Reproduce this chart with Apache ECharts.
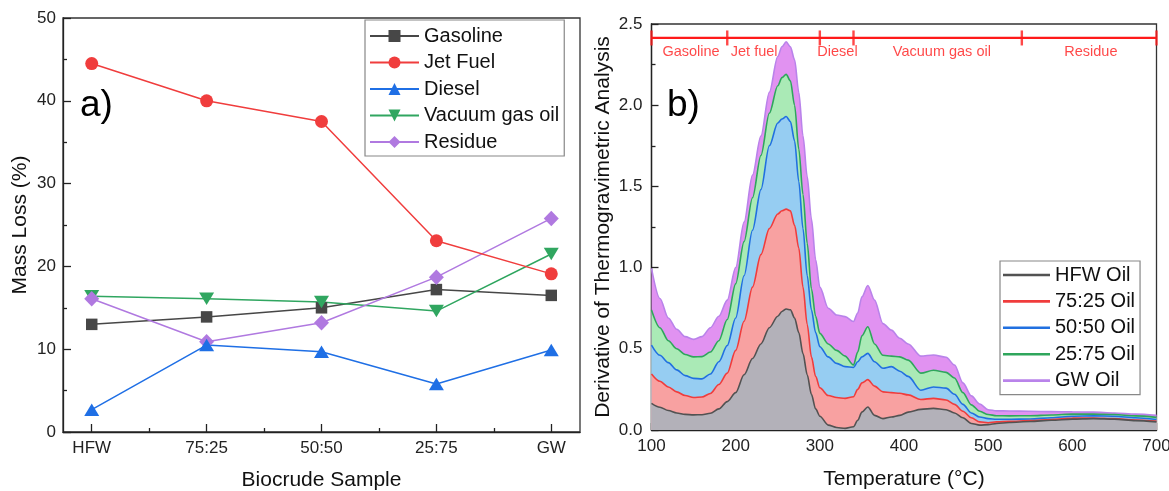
<!DOCTYPE html>
<html>
<head>
<meta charset="utf-8">
<script src="https://cdn.jsdelivr.net/npm/echarts@6/dist/echarts.min.js"></script>
<style>
html,body{margin:0;padding:0;background:#fff;}
#main{width:1169px;height:491px;}
</style>
</head>
<body>
<div id="main"></div>
<script>
// ---------- Panel a) data ----------
const categories = ['HFW', '75:25', '50:50', '25:75', 'GW'];
const gasoline     = [13.0, 13.9, 15.0, 17.2, 16.5];
const jetFuel      = [44.5, 40.0, 37.5, 23.1, 19.1];
const diesel       = [2.7, 10.5, 9.7, 5.8, 9.9];
const vacuumGasOil = [16.4, 16.1, 15.7, 14.6, 21.5];
const residue      = [16.1, 10.9, 13.2, 18.7, 25.8];

// ---------- Panel b) data (cumulative stacked tops read from the plot) ----------
const temperature = [100,110,120,130,140,150,160,170,180,190,200,210,220,230,240,250,255,260,265,270,275,280,285,290,295,300,310,320,330,340,345,350,357,365,375,385,395,405,420,435,450,460,470,480,490,500,510,525,550,575,600,625,650,675,700];
const hfwOil = [0.164,0.14,0.12,0.105,0.096,0.093,0.094,0.103,0.13,0.175,0.23,0.34,0.44,0.53,0.63,0.70,0.73,0.745,0.74,0.69,0.60,0.47,0.34,0.22,0.13,0.085,0.03,0.015,0.01,0.02,0.06,0.11,0.142,0.09,0.07,0.08,0.09,0.11,0.127,0.133,0.125,0.105,0.075,0.04,0.03,0.033,0.04,0.046,0.052,0.06,0.067,0.07,0.067,0.058,0.05];
const oil7525 = [0.345,0.30,0.265,0.235,0.212,0.20,0.203,0.225,0.28,0.35,0.49,0.67,0.88,1.08,1.24,1.33,1.35,1.36,1.35,1.26,1.12,0.88,0.65,0.45,0.33,0.26,0.212,0.20,0.195,0.205,0.25,0.29,0.31,0.27,0.235,0.23,0.226,0.216,0.188,0.195,0.185,0.158,0.115,0.075,0.05,0.045,0.05,0.053,0.058,0.065,0.073,0.074,0.07,0.062,0.055];
const oil5050 = [0.523,0.46,0.415,0.37,0.335,0.318,0.315,0.345,0.42,0.52,0.69,0.95,1.23,1.48,1.75,1.89,1.915,1.93,1.9,1.78,1.53,1.24,0.95,0.74,0.60,0.513,0.45,0.41,0.39,0.385,0.42,0.45,0.472,0.42,0.38,0.39,0.362,0.33,0.245,0.265,0.258,0.22,0.158,0.105,0.08,0.07,0.066,0.066,0.068,0.075,0.085,0.087,0.085,0.075,0.065];
const oil2575 = [0.739,0.63,0.55,0.50,0.465,0.45,0.452,0.48,0.55,0.68,0.90,1.16,1.43,1.69,1.95,2.12,2.17,2.19,2.15,2.0,1.73,1.45,1.15,0.87,0.70,0.595,0.53,0.49,0.455,0.40,0.48,0.58,0.636,0.53,0.46,0.455,0.45,0.43,0.35,0.368,0.355,0.32,0.23,0.155,0.115,0.095,0.088,0.087,0.088,0.092,0.098,0.098,0.095,0.087,0.078];
const gwOil = [0.995,0.81,0.69,0.62,0.575,0.558,0.575,0.63,0.70,0.80,1.0,1.28,1.57,1.81,2.08,2.30,2.36,2.39,2.36,2.28,2.08,1.81,1.56,1.30,1.05,0.88,0.75,0.708,0.698,0.668,0.72,0.82,0.89,0.80,0.655,0.615,0.565,0.53,0.455,0.462,0.448,0.40,0.29,0.21,0.16,0.125,0.118,0.117,0.115,0.113,0.112,0.11,0.105,0.098,0.09];

// boiling-range annotation
const rangeBounds = [100, 190, 300, 340, 540, 700];
const rangeNames = ['Gasoline', 'Jet fuel', 'Diesel', 'Vacuum gas oil', 'Residue'];
const rangeLabelT = [147, 222, 321, 445, 622];
const rangeLineLevel = 2.414;
const rangeLabelLevel = 2.325;

const FONT = '"Liberation Sans", Arial, sans-serif';
const chart = echarts.init(document.getElementById('main'), null, {renderer: 'canvas'});

const pair = arr => arr.map((v, i) => [i, v]);
const tpair = arr => temperature.map((t, i) => [t, arr[i]]);

const axisLineStyle = {color: '#222', width: 1.3};
const tickLabel = {color: '#222', fontSize: 17, fontFamily: FONT};
const nameStyle = {color: '#111', fontSize: 21, fontFamily: FONT};

function leftSeries(name, data, color, symbol, size, rotate) {
  return {
    name: name, type: 'line', xAxisIndex: 0, yAxisIndex: 0,
    data: pair(data), symbol: symbol, symbolSize: size, symbolRotate: rotate || 0,
    showAllSymbol: true,
    lineStyle: {color: color, width: 1.5},
    itemStyle: {color: color, borderWidth: 0},
    emphasis: {disabled: true}, animation: false
  };
}
function rightSeries(name, data, line, fill) {
  return {
    name: name, type: 'line', xAxisIndex: 2, yAxisIndex: 1,
    data: tpair(data), symbol: 'none', showSymbol: false,
    smooth: 0.3, smoothMonotone: 'x',
    lineStyle: {color: line, width: 1.6},
    itemStyle: {color: line},
    areaStyle: {color: fill, opacity: 1},
    emphasis: {disabled: true}, animation: false
  };
}

const option = {
  backgroundColor: '#fff',
  animation: false,
  title: [
    {text: 'a)', left: 80, top: 87, padding: 0, textStyle: {fontSize: 37, fontWeight: 'normal', color: '#000', fontFamily: FONT}},
    {text: 'b)', left: 667, top: 87, padding: 0, textStyle: {fontSize: 37, fontWeight: 'normal', color: '#000', fontFamily: FONT}}
  ],
  grid: [
    {left: 63, right: 589, top: 18, bottom: 59, show: true, borderColor: '#333', borderWidth: 1.3, containLabel: false, outerBoundsMode: 'none'},
    {left: 651.5, right: 12.5, top: 24, bottom: 61, show: true, borderColor: '#333', borderWidth: 1.3, containLabel: false, outerBoundsMode: 'none'}
  ],
  legend: [
    {
      data: ['Gasoline', 'Jet Fuel', 'Diesel', 'Vacuum gas oil', 'Residue'],
      orient: 'vertical', left: 365, top: 20,
      itemWidth: 49, itemHeight: 15, itemGap: 6.5,
      padding: [6, 5, 4, 4],
      borderColor: '#888', borderWidth: 1.2, backgroundColor: '#fff',
      textStyle: {fontSize: 20, lineHeight: 20, color: '#111', fontFamily: FONT},
      selectedMode: false
    },
    {
      data: ['HFW Oil', '75:25 Oil', '50:50 Oil', '25:75 Oil', 'GW Oil'],
      orient: 'vertical', left: 1000, top: 261,
      icon: 'rect',
      itemWidth: 47, itemHeight: 2.6, itemGap: 6.4,
      padding: [4, 5, 4, 3],
      borderColor: '#888', borderWidth: 1.2, backgroundColor: '#fff',
      textStyle: {fontSize: 20, lineHeight: 20, color: '#111', fontFamily: FONT},
      selectedMode: false
    }
  ],
  xAxis: [
    {
      gridIndex: 0, type: 'value', min: -0.25, max: 4.25, position: 'bottom',
      name: 'Biocrude Sample', nameLocation: 'middle', nameGap: 38, nameTextStyle: nameStyle,
      axisLine: {show: true, onZero: false, lineStyle: axisLineStyle},
      axisTick: {show: true, inside: true, length: 8, customValues: [0, 1, 2, 3, 4], lineStyle: axisLineStyle},
      axisLabel: Object.assign({margin: 8, customValues: [0, 1, 2, 3, 4], formatter: v => categories[Math.round(v)]}, tickLabel),
      splitLine: {show: false}
    },
    {
      gridIndex: 0, type: 'value', min: -0.25, max: 4.25, position: 'bottom',
      axisLine: {show: false, onZero: false},
      axisTick: {show: true, inside: true, length: 4, customValues: [0.5, 1.5, 2.5, 3.5], lineStyle: axisLineStyle},
      axisLabel: {show: false}, splitLine: {show: false}
    },
    {
      gridIndex: 1, type: 'value', min: 100, max: 700, interval: 100, position: 'bottom',
      name: 'Temperature (\u00B0C)', nameLocation: 'middle', nameGap: 39, nameTextStyle: nameStyle,
      axisLine: {show: true, onZero: false, lineStyle: axisLineStyle},
      axisTick: {show: true, inside: true, length: 7, lineStyle: axisLineStyle},
      minorTick: {show: true, splitNumber: 2, length: 4, lineStyle: axisLineStyle},
      axisLabel: Object.assign({margin: 8}, tickLabel),
      splitLine: {show: false}
    }
  ],
  yAxis: [
    {
      gridIndex: 0, type: 'value', min: 0, max: 50, interval: 10, position: 'left',
      name: 'Mass Loss (%)', nameLocation: 'middle', nameGap: 32, nameTextStyle: nameStyle,
      axisLine: {show: true, onZero: false, lineStyle: axisLineStyle},
      axisTick: {show: true, inside: true, length: 8, lineStyle: axisLineStyle},
      minorTick: {show: true, splitNumber: 2, length: 4, lineStyle: axisLineStyle},
      axisLabel: Object.assign({margin: 7}, tickLabel),
      splitLine: {show: false}
    },
    {
      gridIndex: 1, type: 'value', min: 0, max: 2.5, interval: 0.5, position: 'left',
      name: 'Derivative of Thermogravimetric Analysis', nameLocation: 'middle', nameGap: 38, nameTextStyle: nameStyle,
      axisLine: {show: true, onZero: false, lineStyle: axisLineStyle},
      axisTick: {show: true, inside: true, length: 7, lineStyle: axisLineStyle},
      minorTick: {show: true, splitNumber: 2, length: 4, lineStyle: axisLineStyle},
      axisLabel: Object.assign({margin: 9, formatter: v => v.toFixed(1)}, tickLabel),
      splitLine: {show: false}
    }
  ],
  series: [
    leftSeries('Gasoline', gasoline, '#474747', 'rect', 11.5),
    leftSeries('Vacuum gas oil', vacuumGasOil, '#30a660', 'triangle', [15, 12.5], 180),
    leftSeries('Residue', residue, '#b079e0', 'diamond', [15, 15.5]),
    leftSeries('Diesel', diesel, '#1f6fe5', 'triangle', [15, 12.5]),
    leftSeries('Jet Fuel', jetFuel, '#f03d3d', 'circle', 13),

    rightSeries('GW Oil', gwOil, '#b983ea', '#e192f1'),
    rightSeries('25:75 Oil', oil2575, '#2fa65c', '#aaeab6'),
    rightSeries('50:50 Oil', oil5050, '#2170e0', '#96cdf2'),
    rightSeries('75:25 Oil', oil7525, '#f03c3c', '#f8a1a1'),
    rightSeries('HFW Oil', hfwOil, '#525252', '#b3b1b9'),

    {
      name: 'rangeLine', type: 'line', xAxisIndex: 2, yAxisIndex: 1,
      data: [[rangeBounds[0], rangeLineLevel], [rangeBounds[rangeBounds.length - 1], rangeLineLevel]],
      symbol: 'none', lineStyle: {color: '#ff1a1a', width: 2.2}, z: 5,
      emphasis: {disabled: true}, silent: true, animation: false
    },
    {
      name: 'rangeTicks', type: 'scatter', xAxisIndex: 2, yAxisIndex: 1,
      data: rangeBounds.map(t => [t, rangeLineLevel]),
      symbol: 'rect', symbolSize: [2.4, 15], itemStyle: {color: '#ff1a1a'}, z: 5,
      emphasis: {disabled: true}, silent: true, animation: false
    },
    {
      name: 'rangeLabels', type: 'scatter', xAxisIndex: 2, yAxisIndex: 1,
      data: rangeLabelT.map((t, i) => ({value: [t, rangeLabelLevel], name: rangeNames[i]})),
      symbolSize: 0, z: 6,
      label: {show: true, position: 'inside', formatter: p => p.name, color: '#ff1a1a', fontSize: 14.5, fontFamily: FONT},
      emphasis: {disabled: true}, silent: true, animation: false
    }
  ]
};
chart.setOption(option);
</script>
</body>
</html>
